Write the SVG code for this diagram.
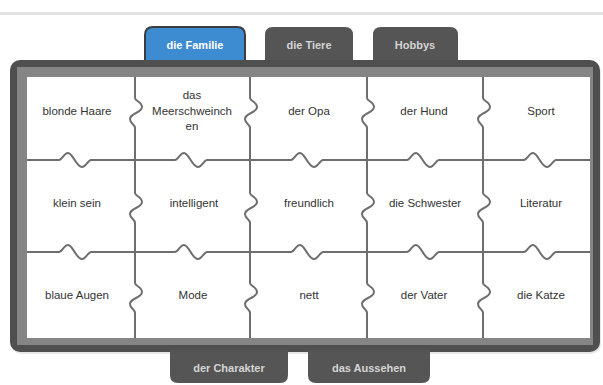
<svg xmlns="http://www.w3.org/2000/svg" width="603" height="385" viewBox="0 0 603 385">
<style>
.cell{font-family:"Liberation Sans",Arial,sans-serif;font-size:11.5px;fill:#333;text-anchor:middle}
.tabt{font-family:"Liberation Sans",Arial,sans-serif;font-size:11px;font-weight:bold;fill:#d4d4d4;text-anchor:middle}
.tab{fill:#555}
.grid{fill:none;stroke:#6e6e6e;stroke-width:2}
</style>
<rect x="0" y="0" width="603" height="385" fill="#fff"/>
<line x1="0" y1="13.5" x2="603" y2="13.5" stroke="#e2e2e2" stroke-width="3"/>

<g id="tab-familie">
<path d="M145,63 V35 Q145,27 153,27 H237 Q245,27 245,35 V63 Z" fill="#3d8bd0" stroke="#3c3c3c" stroke-width="2"/>
<text class="tabt" x="195" y="49" style="fill:#fff">die Familie</text>
</g>
<g id="tab-tiere">
<path class="tab" d="M265,63 V35 Q265,27 273,27 H345 Q353,27 353,35 V63 Z"/>
<text class="tabt" x="309" y="49">die Tiere</text>
</g>
<g id="tab-hobbys">
<path class="tab" d="M373,63 V35 Q373,27 381,27 H450 Q458,27 458,35 V63 Z"/>
<text class="tabt" x="415" y="49">Hobbys</text>
</g>

<g id="frame">
<rect x="11" y="62" width="590" height="292" rx="10" fill="#d8d8d8" opacity="0.6"/>
<rect x="10" y="60" width="590" height="292" rx="10" fill="#4f4f4f"/>
<rect x="17" y="67" width="576" height="278" fill="#858585"/>
<rect x="27" y="77" width="563" height="261" fill="#fff"/>
</g>

<g id="tab-charakter">
<path class="tab" d="M170,350 V375 Q170,383 178,383 H280 Q288,383 288,375 V350 Z"/>
<text class="tabt" x="229" y="372">der Charakter</text>
</g>
<g id="tab-aussehen">
<path class="tab" d="M308,350 V375 Q308,383 316,383 H422 Q430,383 430,375 V350 Z"/>
<text class="tabt" x="369" y="372">das Aussehen</text>
</g>

<g id="grid" class="grid">
<path d="M27,160 H59 c3,0 5,-7 9,-7 c5,0 8,14 14,14 c4,0 6,-7 9,-7 H175 c3,0 5,-7 9,-7 c5,0 8,14 14,14 c4,0 6,-7 9,-7 H291 c3,0 5,-7 9,-7 c5,0 8,14 14,14 c4,0 6,-7 9,-7 H407 c3,0 5,-7 9,-7 c5,0 8,14 14,14 c4,0 6,-7 9,-7 H524 c3,0 5,-7 9,-7 c5,0 8,14 14,14 c4,0 6,-7 9,-7 H590"/>
<path d="M27,252 H59 c3,0 5,-7 9,-7 c5,0 8,14 14,14 c4,0 6,-7 9,-7 H175 c3,0 5,-7 9,-7 c5,0 8,14 14,14 c4,0 6,-7 9,-7 H291 c3,0 5,-7 9,-7 c5,0 8,14 14,14 c4,0 6,-7 9,-7 H407 c3,0 5,-7 9,-7 c5,0 8,14 14,14 c4,0 6,-7 9,-7 H524 c3,0 5,-7 9,-7 c5,0 8,14 14,14 c4,0 6,-7 9,-7 H590"/>
<path d="M135,77 V98 c0,3 7,4 7,9 c0,6 -12,6 -12,12 c0,5 5,5 5,9 V193 c0,3 7,4 7,9 c0,6 -12,6 -12,12 c0,5 5,5 5,9 V283 c0,3 7,4 7,9 c0,6 -12,6 -12,12 c0,5 5,5 5,9 V338"/>
<path d="M250,77 V98 c0,3 7,4 7,9 c0,6 -12,6 -12,12 c0,5 5,5 5,9 V193 c0,3 7,4 7,9 c0,6 -12,6 -12,12 c0,5 5,5 5,9 V283 c0,3 7,4 7,9 c0,6 -12,6 -12,12 c0,5 5,5 5,9 V338"/>
<path d="M367,77 V98 c0,3 7,4 7,9 c0,6 -12,6 -12,12 c0,5 5,5 5,9 V193 c0,3 7,4 7,9 c0,6 -12,6 -12,12 c0,5 5,5 5,9 V283 c0,3 7,4 7,9 c0,6 -12,6 -12,12 c0,5 5,5 5,9 V338"/>
<path d="M483,77 V98 c0,3 7,4 7,9 c0,6 -12,6 -12,12 c0,5 5,5 5,9 V193 c0,3 7,4 7,9 c0,6 -12,6 -12,12 c0,5 5,5 5,9 V283 c0,3 7,4 7,9 c0,6 -12,6 -12,12 c0,5 5,5 5,9 V338"/>
</g>

<g id="c11"><text class="cell" x="77" y="115">blonde Haare</text></g>
<g id="c12"><text class="cell" x="192" y="99">das</text><text class="cell" x="192" y="115">Meerschweinch</text><text class="cell" x="192" y="130">en</text></g>
<g id="c13"><text class="cell" x="309" y="115">der Opa</text></g>
<g id="c14"><text class="cell" x="424" y="115">der Hund</text></g>
<g id="c15"><text class="cell" x="541" y="115">Sport</text></g>

<g id="c21"><text class="cell" x="77" y="207">klein sein</text></g>
<g id="c22"><text class="cell" x="194" y="207">intelligent</text></g>
<g id="c23"><text class="cell" x="309" y="207">freundlich</text></g>
<g id="c24"><text class="cell" x="425" y="207">die Schwester</text></g>
<g id="c25"><text class="cell" x="541" y="207">Literatur</text></g>

<g id="c31"><text class="cell" x="77" y="299">blaue Augen</text></g>
<g id="c32"><text class="cell" x="193" y="299">Mode</text></g>
<g id="c33"><text class="cell" x="309" y="299">nett</text></g>
<g id="c34"><text class="cell" x="424" y="299">der Vater</text></g>
<g id="c35"><text class="cell" x="541" y="299">die Katze</text></g>
</svg>
